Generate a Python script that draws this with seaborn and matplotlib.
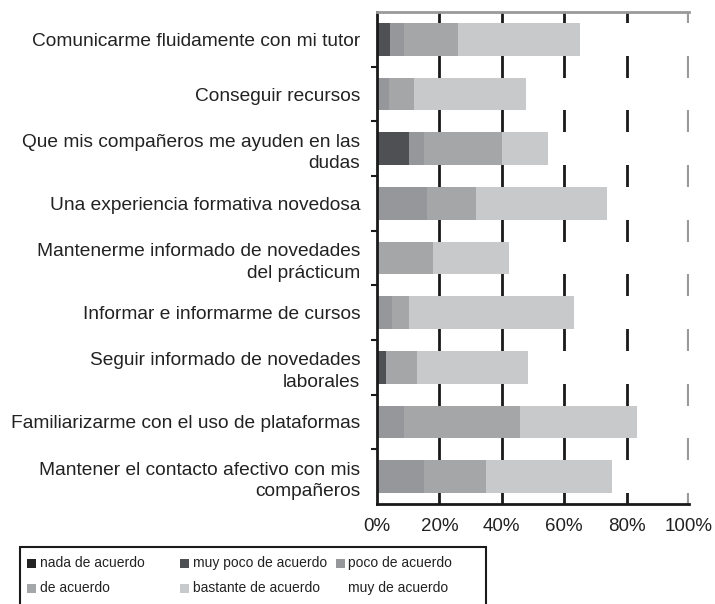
import numpy as np
import pandas as pd
import matplotlib
matplotlib.use('Agg')
import matplotlib.pyplot as plt
from matplotlib.patches import Rectangle
import seaborn as sns

# --- datos (porcentajes) ---
categorias = [
    'Comunicarme fluidamente con mi tutor',
    'Conseguir recursos',
    'Que mis compañeros me ayuden en las\ndudas',
    'Una experiencia formativa novedosa',
    'Mantenerme informado de novedades\ndel prácticum',
    'Informar e informarme de cursos',
    'Seguir informado de novedades\nlaborales',
    'Familiarizarme con el uso de plataformas',
    'Mantener el contacto afectivo con mis\ncompañeros',
]
nada       = [0.0, 0.0, 0.0, 0.0, 0.0, 0.0, 0.0, 0.0, 0.0]
muy_poco   = [4.3, 0.0, 10.1, 0.0, 0.0, 0.0, 3.0, 0.0, 0.0]
poco       = [4.2, 3.9, 5.0, 16.0, 0.0, 4.8, 0.0, 8.5, 15.1]
de_acuerdo = [17.6, 8.0, 25.0, 15.6, 18.1, 5.6, 9.8, 37.4, 19.9]
bastante   = [38.9, 35.9, 14.8, 42.1, 24.3, 52.7, 35.5, 37.5, 40.2]
muy        = [35.0, 52.2, 45.1, 26.3, 57.6, 36.9, 51.7, 16.6, 24.8]

series  = ['nada de acuerdo', 'muy poco de acuerdo', 'poco de acuerdo',
           'de acuerdo', 'bastante de acuerdo', 'muy de acuerdo']
colores = ['#232323', '#4e5053', '#95979a', '#a5a6a8', '#c8c9ca', '#ffffff']
ticks_x = [0, 20, 40, 60, 80, 100]
etiquetas_x = ['0%', '20%', '40%', '60%', '80%', '100%']

sns.set_theme(style='white')
plt.rcParams['font.family'] = ['Liberation Sans', 'DejaVu Sans']

W, H = 715, 604
fig = plt.figure(figsize=(W / 100, H / 100), dpi=100)
ax = fig.add_axes([377 / W, 1 - 504 / H, (689 - 377) / W, (504 - 12) / H])

df = pd.DataFrame(dict(zip(series, [nada, muy_poco, poco, de_acuerdo, bastante, muy])),
                  index=categorias)
acum = df.cumsum(axis=1)

# barras apiladas: de la acumulada mayor a la menor
for serie, color in reversed(list(zip(series, colores))):
    sns.barplot(x=acum[serie].values, y=categorias, color=color, orient='h',
                width=0.6, saturation=1, errorbar=None, edgecolor='none',
                linewidth=0, ax=ax)

for v in ticks_x[1:-1]:
    ax.axvline(v, color='#1a1a1a', lw=2, zorder=0.5)
ax.axvline(100, color='#9a9a9a', lw=3, zorder=0.5)

ax.set_xlim(0, 100)
ax.set_ylim(len(categorias) - 0.5, -0.5)
ax.set_xticks(ticks_x)
ax.set_xticklabels(etiquetas_x)
ax.set_xlabel(''); ax.set_ylabel('')

ax.spines['left'].set_color('#1a1a1a'); ax.spines['left'].set_linewidth(2)
ax.spines['bottom'].set_color('#1a1a1a'); ax.spines['bottom'].set_linewidth(2)
ax.spines['top'].set_color('#9a9a9a'); ax.spines['top'].set_linewidth(2)
ax.spines['right'].set_visible(False)

ax.tick_params(axis='x', length=0, pad=10, labelsize=13.5, labelcolor='#222222')
ax.tick_params(axis='y', which='major', length=0, pad=12, labelsize=13.8,
               labelcolor='#222222')
for lbl in ax.get_yticklabels():
    lbl.set_linespacing(1.35)
ax.set_yticks(np.arange(0.5, len(categorias) - 1, 1.0), minor=True)
ax.tick_params(axis='y', which='minor', left=True, length=4, width=1.5,
               direction='out', color='#1a1a1a')

# leyenda
def fx(x):
    return x / W

def fy(y):
    return 1 - y / H

fig.add_artist(Rectangle((fx(20), fy(612)), fx(486) - fx(20), fy(547) - fy(612),
                         transform=fig.transFigure, fill=False,
                         edgecolor='#1a1a1a', lw=1.5))
swatch_x = [27, 180, 336]
texto_x = [40, 193, 348]
fila_y = [563, 588]
for i, (serie, color) in enumerate(zip(series, colores)):
    f, c = divmod(i, 3)
    fig.add_artist(Rectangle((fx(swatch_x[c]), fy(fila_y[f] + 4.5)), 9 / W, 9 / H,
                             transform=fig.transFigure, facecolor=color,
                             edgecolor='none'))
    fig.text(fx(texto_x[c]), fy(fila_y[f]), serie, fontsize=10,
             color='#222222', ha='left', va='center')

fig.savefig('out.png', dpi=100)
plt.close()
